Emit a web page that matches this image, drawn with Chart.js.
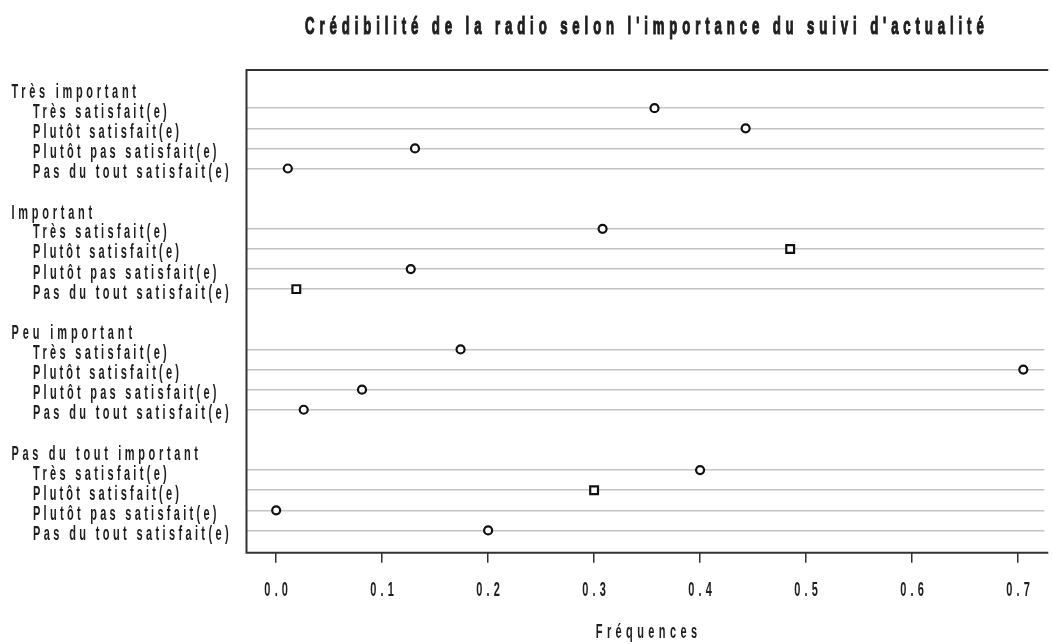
<!DOCTYPE html>
<html lang="fr">
<head>
<meta charset="utf-8">
<title>Crédibilité de la radio</title>
<script src="https://cdn.jsdelivr.net/npm/chart.js@4.4.1/dist/chart.umd.min.js"></script>
<style>
  html, body { margin: 0; padding: 0; background: #fff; overflow: hidden; }
  #cadre { width: 1052px; height: 644px; }
</style>
</head>
<body>
<div id="cadre"><canvas id="dotchart"></canvas></div>
<script>
// ------------------- DONNÉES -------------------
const titre = "Crédibilité de la radio selon l'importance du suivi d'actualité";
const titreAxeX = "Fréquences";
const groupes = ["Très important", "Important", "Peu important", "Pas du tout important"];
const modalites = [
  "Très satisfait(e)",
  "Plutôt satisfait(e)",
  "Plutôt pas satisfait(e)",
  "Pas du tout satisfait(e)",
];
const freqTresImportant = [0.357, 0.443, 0.131, 0.011];
const freqImportant = [0.308, 0.485, 0.127, 0.019];
const freqPeuImportant = [0.174, 0.705, 0.081, 0.026];
const freqPasDuToutImportant = [0.4, 0.3, 0.0, 0.2];
const ticksX = [0, 0.1, 0.2, 0.3, 0.4, 0.5, 0.6, 0.7];
const etiquettesX = ["0.0", "0.1", "0.2", "0.3", "0.4", "0.5", "0.6", "0.7"];

const series = [freqTresImportant, freqImportant, freqPeuImportant, freqPasDuToutImportant];

// positions façon dotchart() de R : une ligne par modalité, 2 lignes vides entre groupes
const nLignes = groupes.length * modalites.length + 2 * (groupes.length - 1);
function positionLigne(g, r) {
  return nLignes - (g * (modalites.length + 2) + r);
}
function positionGroupe(g) {
  return positionLigne(g, 0) + 1;
}

const points = [];
series.forEach((vals, g) =>
  vals.forEach((v, r) => points.push({ x: v, y: positionLigne(g, r) }))
);
const lignes = points.map((p) => p.y);

// glyphes étroits (gras) posés sur les avances d'Helvetica, comme la sortie R
const ETROIT = 0.55;
const POLICE = "'Liberation Sans', Arial, sans-serif";
function ecrire(ctx, texte, x, y, taille, titreGras, align) {
  ctx.save();
  ctx.font = (titreGras ? "bold " : "") + taille + "px " + POLICE;
  const largeur = ctx.measureText(texte).width; // avances de référence
  ctx.font = "bold " + taille + "px " + POLICE;
  const largeurGras = ctx.measureText(texte).width;
  const n = [...texte].length;
  const espace = (largeur / ETROIT - largeurGras) / n;
  const encre = largeur - espace * ETROIT;
  const x0 = align === "center" ? x - encre / 2 : x;
  ctx.fillStyle = "#1e1e1e";
  ctx.strokeStyle = "#1e1e1e";
  ctx.textAlign = "left";
  ctx.textBaseline = "alphabetic";
  ctx.translate(x0, y);
  ctx.scale(ETROIT, 1);
  ctx.letterSpacing = espace + "px";
  ctx.fillText(texte, 0, 0);
  if (titreGras) {
    ctx.lineWidth = 1.2;
    ctx.strokeText(texte, 0, 0);
  }
  ctx.restore();
}

const cadreEtTextes = {
  id: "cadreEtTextes",
  afterDraw(chart) {
    const { ctx, chartArea, scales } = chart;
    const { left, right, top, bottom } = chartArea;

    // cadre du graphique (le bord droit sort de l'image)
    ctx.save();
    ctx.strokeStyle = "#333";
    ctx.lineWidth = 2;
    ctx.beginPath();
    ctx.moveTo(right + 4, top);
    ctx.lineTo(left, top);
    ctx.lineTo(left, bottom);
    ctx.lineTo(right + 4, bottom);
    ctx.stroke();
    ctx.restore();

    // étiquettes des groupes et des modalités
    groupes.forEach((nom, g) => {
      ecrire(ctx, nom, 11.5, scales.y.getPixelForValue(positionGroupe(g)) + 10, 20, false, "left");
      modalites.forEach((m, r) => {
        ecrire(ctx, m, 33, scales.y.getPixelForValue(positionLigne(g, r)) + 9.5, 20, false, "left");
      });
    });

    // graduations de l'axe x
    ticksX.forEach((v, i) => {
      ecrire(ctx, etiquettesX[i], scales.x.getPixelForValue(v), 596, 20, false, "center");
    });

    const milieu = (left + right) / 2;
    ecrire(ctx, titreAxeX, milieu + 1, 638, 20, false, "center");
    ecrire(ctx, titre, milieu - 1, 34, 24, true, "center");
  },
};

const carres = [5, 7, 13];

new Chart(document.getElementById("dotchart"), {
  type: "scatter",
  data: {
    datasets: [
      {
        data: points,
        showLine: false,
        pointStyle: (c) => (carres.includes(c.dataIndex) ? "rect" : "circle"),
        pointRadius: (c) => (carres.includes(c.dataIndex) ? 5.5 : 4),
        pointBorderWidth: 2.2,
        pointBorderColor: "#111",
        pointBackgroundColor: "#fff",
      },
    ],
  },
  options: {
    responsive: true,
    maintainAspectRatio: false,
    animation: false,
    layout: { padding: { top: 70, left: 0, right: 0, bottom: 0 } },
    plugins: {
      legend: { display: false },
      tooltip: { enabled: false },
    },
    scales: {
      x: {
        type: "linear",
        min: -0.028,
        max: 0.7248,
        afterBuildTicks: (s) => {
          s.ticks = ticksX.map((v) => ({ value: v }));
        },
        afterFit: (s) => {
          s.height = 91.3;
        },
        ticks: { display: false },
        grid: {
          drawOnChartArea: false,
          drawTicks: true,
          tickLength: 10,
          color: "#333",
          lineWidth: 1.5,
        },
        border: { display: false },
      },
      y: {
        type: "linear",
        min: -0.11,
        max: 23.9,
        afterBuildTicks: (s) => {
          s.ticks = lignes.map((v) => ({ value: v }));
        },
        afterFit: (s) => {
          s.width = 246.5;
        },
        ticks: { display: false },
        grid: { color: "#c4c4c4", lineWidth: 1.5, drawTicks: false },
        border: { display: false },
      },
    },
  },
  plugins: [cadreEtTextes],
});
</script>
</body>
</html>
